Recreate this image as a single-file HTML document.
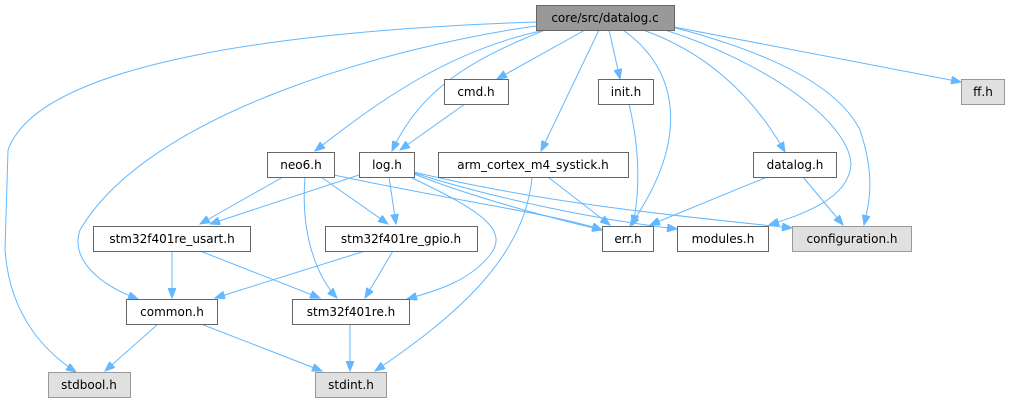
<!DOCTYPE html>
<html><head><meta charset="utf-8"><style>
body{margin:0;background:#fff;}
svg{display:block;}
text{font-family:"DejaVu Sans","Liberation Sans",sans-serif;font-size:12px;fill:#000;}
.n{fill:#fff;stroke:#666;stroke-width:1;}
.g{fill:#e0e0e0;stroke:#999;stroke-width:1;}
.e{fill:none;stroke:#63b8ff;stroke-width:1;marker-end:url(#a);}
</style></head><body>
<svg width="1009" height="403" viewBox="0 0 1009 403">
<defs><marker id="a" markerWidth="11" markerHeight="8" refX="10" refY="4" orient="auto" markerUnits="userSpaceOnUse"><path d="M0,0 L10,4 L0,8 Z" fill="#63b8ff" stroke="#63b8ff"/></marker></defs>
<path class="e" d="M536,22 C300,30 40,60 8,150 L5,250 C10,320 50,355 76,372"/>
<path class="e" d="M536,26 C400,45 150,110 80,230 C70,260 100,285 138,299"/>
<path class="e" d="M545,30 C450,50 380,100 315,151"/>
<path class="e" d="M545,30 C470,60 420,90 392,151"/>
<path class="e" d="M585,30 L497,79"/>
<path class="e" d="M599,30 L541,151"/>
<path class="e" d="M609,30 L620,79"/>
<path class="e" d="M623,30 C680,70 690,140 630,226"/>
<path class="e" d="M643,30 C700,50 750,90 785,152"/>
<path class="e" d="M665,30 C760,60 850,120 851,165 C848,200 800,215 769,225"/>
<path class="e" d="M672,27 C780,55 840,90 860,130 C875,175 870,200 864,225"/>
<path class="e" d="M674,27 L961,82"/>
<path class="e" d="M465,104 L400,150"/>
<path class="e" d="M629,104 C640,150 640,190 633,225"/>
<path class="e" d="M767,177 L650,225"/>
<path class="e" d="M803,177 L843,225"/>
<path class="e" d="M548,177 L610,225"/>
<path class="e" d="M532,177 C525,260 450,320 375,371"/>
<path class="e" d="M283,177 L200,224"/>
<path class="e" d="M321,177 L388,224"/>
<path class="e" d="M305,177 C300,240 320,280 337,298"/>
<path class="e" d="M334,175 C450,200 560,215 602,230"/>
<path class="e" d="M359,175 L210,224"/>
<path class="e" d="M389,177 L396,224"/>
<path class="e" d="M412,178 C480,210 510,230 490,255 C470,280 440,290 407,299"/>
<path class="e" d="M414,174 C480,200 560,220 602,230"/>
<path class="e" d="M414,173 C500,200 600,220 677,229"/>
<path class="e" d="M414,172 C550,205 700,218 792,228"/>
<path class="e" d="M172,251 L172,298"/>
<path class="e" d="M200,251 L320,298"/>
<path class="e" d="M365,251 L215,298"/>
<path class="e" d="M393,251 L365,298"/>
<path class="e" d="M350,324 L350,371"/>
<path class="e" d="M201,324 L322,371"/>
<path class="e" d="M158,324 L105,371"/>

<rect x="536.5" y="5.5" width="138" height="25" fill="#999" stroke="#666"/>
<text x="605" y="22" text-anchor="middle">core/src/datalog.c</text>
<rect class="n" x="444.5" y="79.5" width="64" height="25"/><text x="476" y="96" text-anchor="middle">cmd.h</text>
<rect class="n" x="598.5" y="79.5" width="55" height="25"/><text x="626" y="96" text-anchor="middle">init.h</text>
<rect class="g" x="961.5" y="79.5" width="43" height="25"/><text x="983" y="96" text-anchor="middle">ff.h</text>
<rect class="n" x="267.5" y="152.5" width="67" height="25"/><text x="301" y="169" text-anchor="middle">neo6.h</text>
<rect class="n" x="359.5" y="152.5" width="55" height="25"/><text x="387" y="169" text-anchor="middle">log.h</text>
<rect class="n" x="438.5" y="152.5" width="190" height="25"/><text x="533" y="169" text-anchor="middle">arm_cortex_m4_systick.h</text>
<rect class="n" x="753.5" y="152.5" width="83" height="25"/><text x="795" y="169" text-anchor="middle">datalog.h</text>
<rect class="n" x="93.5" y="226.5" width="157" height="25"/><text x="172" y="243" text-anchor="middle">stm32f401re_usart.h</text>
<rect class="n" x="325.5" y="226.5" width="152" height="25"/><text x="401" y="243" text-anchor="middle">stm32f401re_gpio.h</text>
<rect class="n" x="602.5" y="226.5" width="51" height="25"/><text x="628" y="243" text-anchor="middle">err.h</text>
<rect class="n" x="677.5" y="226.5" width="91" height="25"/><text x="723" y="243" text-anchor="middle">modules.h</text>
<rect class="g" x="792.5" y="226.5" width="119" height="25"/><text x="852" y="243" text-anchor="middle">configuration.h</text>
<rect class="n" x="126.5" y="299.5" width="91" height="25"/><text x="172" y="316" text-anchor="middle">common.h</text>
<rect class="n" x="292.5" y="299.5" width="117" height="25"/><text x="351" y="316" text-anchor="middle">stm32f401re.h</text>
<rect class="g" x="48.5" y="372.5" width="82" height="25"/><text x="89" y="389" text-anchor="middle">stdbool.h</text>
<rect class="g" x="315.5" y="372.5" width="71" height="25"/><text x="351" y="389" text-anchor="middle">stdint.h</text>
</svg>
</body></html>
